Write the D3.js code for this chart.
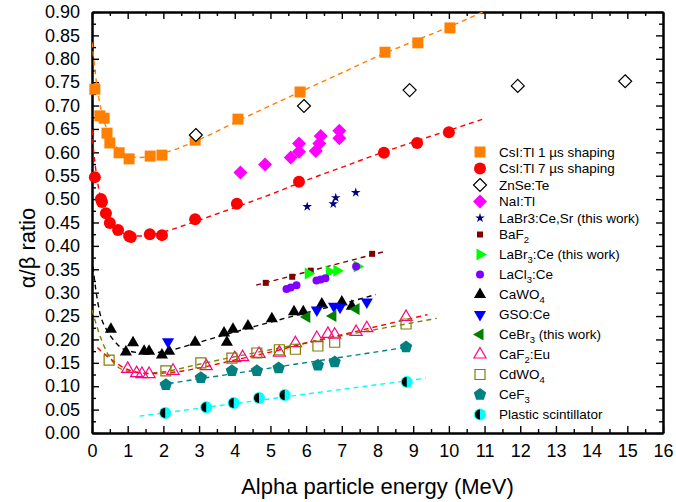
<!DOCTYPE html>
<html><head><meta charset="utf-8">
<script src="https://cdn.jsdelivr.net/npm/d3@7"></script>
<style>
body{margin:0;background:#fff}
svg{display:block}
text{font-family:"Liberation Sans",Arial,sans-serif;fill:#000}
</style>
</head><body>
<svg id="chart" width="676" height="502"></svg>
<script>
// ---------- tick values ----------
const xMajorTicks = [0,1,2,3,4,5,6,7,8,9,10,11,12,13,14,15,16];
const xMinorTicks = [0.5,1.5,2.5,3.5,4.5,5.5,6.5,7.5,8.5,9.5,10.5,11.5,12.5,13.5,14.5,15.5];
const yMajorTicks = [0,0.05,0.10,0.15,0.20,0.25,0.30,0.35,0.40,0.45,0.50,0.55,0.60,0.65,0.70,0.75,0.80,0.85,0.90];
const yMinorTicks = [0.025,0.075,0.125,0.175,0.225,0.275,0.325,0.375,0.425,0.475,0.525,0.575,0.625,0.675,0.725,0.775,0.825,0.875];
const xTitle = "Alpha particle energy (MeV)";
const yTitle = "\u03b1/\u03b2 ratio";

// ---------- series data [energy MeV, alpha/beta ratio] ----------
const csi1us = [[0.08,0.735],[0.22,0.678],[0.34,0.673],[0.42,0.641],[0.50,0.620],[0.76,0.599],[1.04,0.586],[1.63,0.592],[1.96,0.594],[2.89,0.626],[4.09,0.671],[5.83,0.729],[8.21,0.814],[9.13,0.834],[10.03,0.866]];
const csi7us = [[0.08,0.547],[0.25,0.500],[0.28,0.494],[0.39,0.470],[0.50,0.449],[0.73,0.434],[1.04,0.421],[1.09,0.419],[1.62,0.425],[1.96,0.423],[2.89,0.457],[4.06,0.490],[5.80,0.537],[8.18,0.599],[9.11,0.620],[10.0,0.643]];
const znse = [[2.91,0.637],[5.94,0.699],[8.9,0.733],[11.93,0.742],[14.94,0.752]];
const nai = [[4.16,0.557],[4.85,0.574],[5.57,0.589],[5.80,0.601],[5.80,0.619],[6.27,0.603],[6.37,0.619],[6.41,0.635],[6.93,0.630],[6.93,0.646]];
const labr3CeSr = [[6.03,0.484],[6.76,0.490],[6.83,0.503],[7.39,0.514]];
const baf2 = [[4.87,0.321],[5.61,0.334],[6.13,0.347],[7.85,0.383]];
const labr3Ce = [[6.06,0.341],[6.65,0.345],[6.86,0.347],[7.43,0.356]];
const lacl3 = [[5.45,0.308],[5.57,0.311],[5.73,0.316],[6.29,0.326],[6.41,0.328],[6.54,0.331],[7.40,0.356]];
const cawo4 = [[0.53,0.222],[0.95,0.173],[1.15,0.193],[1.46,0.175],[1.60,0.175],[1.96,0.167],[2.16,0.175],[2.89,0.194],[3.70,0.214],[3.78,0.194],[3.95,0.222],[4.37,0.229],[5.04,0.244],[5.66,0.259],[5.92,0.259],[6.44,0.276],[7.00,0.280],[7.28,0.271]];
const gso = [[2.13,0.195],[6.30,0.263],[6.78,0.271],[6.95,0.269],[7.70,0.280]];
const cebr3 = [[6.02,0.248],[6.75,0.250],[7.40,0.265]];
const caf2 = [[1.00,0.137],[1.25,0.128],[1.40,0.126],[1.60,0.126],[2.27,0.133],[3.20,0.143],[4.00,0.160],[4.22,0.162],[4.68,0.169],[5.25,0.172],[5.70,0.192],[6.30,0.203],[6.61,0.212],[6.80,0.210],[7.40,0.216],[7.70,0.224],[8.80,0.248]];
const cdwo4 = [[0.48,0.156],[2.07,0.133],[3.05,0.150],[3.92,0.160],[4.62,0.171],[5.25,0.178],[5.70,0.179],[6.33,0.186],[6.80,0.194],[8.80,0.233]];
const cef3 = [[2.07,0.103],[3.05,0.118],[3.92,0.133],[4.62,0.133],[5.23,0.139],[6.33,0.145],[6.80,0.152],[8.80,0.184]];
const plastic = [[2.05,0.043],[3.20,0.055],[3.97,0.064],[4.68,0.075],[5.40,0.081],[8.82,0.109]];

// ---------- fitted trend lines ----------
const fitCsi1us = [[0,0.835],[0.05,0.80],[0.1,0.765],[0.2,0.712],[0.3,0.677],[0.5,0.635],[0.75,0.606],[1.0,0.593],[1.3,0.589],[1.6,0.590],[2,0.598],[3,0.627],[4,0.664],[5,0.700],[6,0.735],[7,0.770],[8,0.805],[9,0.837],[10,0.868],[10.95,0.90]];
const fitCsi7us = [[0,0.648],[0.05,0.60],[0.1,0.567],[0.2,0.517],[0.3,0.488],[0.5,0.453],[0.75,0.433],[1.0,0.424],[1.3,0.421],[1.6,0.423],[2,0.430],[3,0.455],[4,0.482],[5,0.510],[6,0.540],[7,0.568],[8,0.596],[9,0.622],[10,0.647],[10.95,0.671]];
const fitBaf2 = [[4.6,0.316],[8.15,0.387]];
const fitCawo4 = [[0,0.375],[0.1,0.31],[0.22,0.257],[0.4,0.222],[0.56,0.203],[0.87,0.180],[1.3,0.172],[1.7,0.171],[2,0.174],[3,0.194],[4,0.216],[5,0.237],[6,0.257],[7,0.276],[7.95,0.296]];
const fitCaf2 = [[0.15,0.183],[0.3,0.172],[0.6,0.154],[0.9,0.139],[1.2,0.131],[1.6,0.127],[2,0.128],[2.5,0.132],[3,0.139],[4,0.156],[5,0.173],[6,0.192],[7,0.210],[8,0.228],[9.4,0.253]];
const fitCdwo4 = [[0,0.263],[0.17,0.22],[0.42,0.172],[0.64,0.147],[1,0.132],[1.5,0.128],[2,0.131],[3,0.147],[4,0.163],[5,0.178],[6,0.193],[7,0.208],[8,0.222],[9.66,0.245]];
const fitCef3 = [[1.9,0.103],[8.8,0.183]];
const fitPlastic = [[1.33,0.036],[9.35,0.117]];

// ---------- styles (built from the arrays above) ----------
const series = [
  {label:"CsI:Tl 1 \u00b5s shaping", data:csi1us, shape:"square", s:5.5, fill:"#FF8000", stroke:"none"},
  {label:"CsI:Tl 7 \u00b5s shaping", data:csi7us, shape:"circle", s:6, fill:"#FF0000", stroke:"none"},
  {label:"ZnSe:Te", data:znse, shape:"diamond", s:6.5, fill:"#fff", stroke:"#000"},
  {label:"NaI:Tl", data:nai, shape:"diamond", s:7, fill:"#FF00FF", stroke:"none"},
  {label:"LaBr3:Ce,Sr (this work)", data:labr3CeSr, shape:"star", s:3, fill:"#000080", stroke:"none"},
  {label:"BaF_2", data:baf2, shape:"square", s:3, fill:"#800000", stroke:"none"},
  {label:"LaBr_3:Ce (this work)", data:labr3Ce, shape:"triRight", s:7, fill:"#00FF00", stroke:"none"},
  {label:"LaCl_3:Ce", data:lacl3, shape:"circle", s:4, fill:"#8000FF", stroke:"none"},
  {label:"CaWO_4", data:cawo4, shape:"triUp", s:7, fill:"#000", stroke:"none"},
  {label:"GSO:Ce", data:gso, shape:"triDown", s:7, fill:"#0000FF", stroke:"none"},
  {label:"CeBr_3 (this work)", data:cebr3, shape:"triLeft", s:7, fill:"#008000", stroke:"none"},
  {label:"CaF_2:Eu", data:caf2, shape:"triUp", s:7, fill:"none", stroke:"#FF0080"},
  {label:"CdWO_4", data:cdwo4, shape:"square", s:5, fill:"none", stroke:"#808000"},
  {label:"CeF_3", data:cef3, shape:"pentagon", s:6.5, fill:"#008080", stroke:"none"},
  {label:"Plastic scintillator", data:plastic, shape:"half", s:6, fill:"#00FFFF", stroke:"none"}
];
const fits = [
  {data:fitCsi1us, color:"#FF8000"},
  {data:fitCsi7us, color:"#FF0000"},
  {data:fitBaf2, color:"#800000"},
  {data:fitCawo4, color:"#000"},
  {data:fitCdwo4, color:"#808000"},
  {data:fitCaf2, color:"#FF0000"},
  {data:fitCef3, color:"#008080"},
  {data:fitPlastic, color:"#00FFFF"}
];

// ---------- layout ----------
const svg = d3.select("#chart");
const L = 92, R = 663, T = 12, B = 433;
const x = d3.scaleLinear().domain([0,16]).range([L,R]);
const y = d3.scaleLinear().domain([0,0.9]).range([B,T]);

svg.append("defs").append("clipPath").attr("id","clip")
  .append("rect").attr("x",L).attr("y",T).attr("width",R-L).attr("height",B-T);

function poly(n, r, rot){
  const pts = d3.range(n).map(i=>{const a=rot+i*2*Math.PI/n; return [(r*Math.cos(a)).toFixed(2),(r*Math.sin(a)).toFixed(2)];});
  return "M"+pts.map(p=>p.join(",")).join("L")+"Z";
}
function shapePath(shape, s){
  switch(shape){
    case "square": return `M${-s},${-s}H${s}V${s}H${-s}Z`;
    case "diamond": return `M0,${-s}L${s},0L0,${s}L${-s},0Z`;
    case "circle": case "half": return d3.symbol(d3.symbolCircle, Math.PI*s*s)();
    case "star": return d3.symbol(d3.symbolStar, s*s*3.2)();
    case "triUp": return poly(3,s,-Math.PI/2);
    case "triDown": return poly(3,s,Math.PI/2);
    case "triRight": return poly(3,s,0);
    case "triLeft": return poly(3,s,Math.PI);
    case "pentagon": return poly(5,s,-Math.PI/2);
  }
}
function drawMarker(g, sr, px, py){
  const gg = g.append("g").attr("transform",`translate(${px},${py})`);
  gg.append("path").attr("d",shapePath(sr.shape, sr.s))
    .attr("fill",sr.fill).attr("stroke",sr.stroke).attr("stroke-width",1.2);
  if(sr.shape==="half"){
    const r = sr.s-1;
    gg.append("path").attr("d",`M0,${-r}A${r},${r} 0 0 0 0,${r}Z`).attr("fill","#000");
  }
}

// ---------- axes ----------
function styleAxis(g){
  g.selectAll(".domain").attr("stroke","#000").attr("stroke-width",2);
  g.selectAll(".tick line").attr("stroke","#000").attr("stroke-width",1.4);
  g.selectAll(".tick text").style("font-size","18px").attr("fill","#000");
}
// bottom
svg.append("g").attr("transform",`translate(0,${B})`)
  .call(d3.axisBottom(x).tickValues(xMinorTicks).tickSizeInner(-4).tickSizeOuter(0).tickFormat(""))
  .call(styleAxis);
svg.append("g").attr("transform",`translate(0,${B})`)
  .call(d3.axisBottom(x).tickValues(xMajorTicks).tickSizeInner(-7).tickSizeOuter(0).tickPadding(11).tickFormat(d3.format("d")))
  .call(styleAxis);
// top
svg.append("g").attr("transform",`translate(0,${T})`)
  .call(d3.axisTop(x).tickValues(xMinorTicks).tickSizeInner(-4).tickSizeOuter(0).tickFormat(""))
  .call(styleAxis);
svg.append("g").attr("transform",`translate(0,${T})`)
  .call(d3.axisTop(x).tickValues(xMajorTicks).tickSizeInner(-7).tickSizeOuter(0).tickFormat(""))
  .call(styleAxis);
// left
svg.append("g").attr("transform",`translate(${L},0)`)
  .call(d3.axisLeft(y).tickValues(yMinorTicks).tickSizeInner(-4).tickSizeOuter(0).tickFormat(""))
  .call(styleAxis);
svg.append("g").attr("transform",`translate(${L},0)`)
  .call(d3.axisLeft(y).tickValues(yMajorTicks).tickSizeInner(-7).tickSizeOuter(0).tickPadding(12).tickFormat(d3.format(".2f")))
  .call(styleAxis);
// right
svg.append("g").attr("transform",`translate(${R},0)`)
  .call(d3.axisRight(y).tickValues(yMinorTicks).tickSizeInner(-4).tickSizeOuter(0).tickFormat(""))
  .call(styleAxis);
svg.append("g").attr("transform",`translate(${R},0)`)
  .call(d3.axisRight(y).tickValues(yMajorTicks).tickSizeInner(-7).tickSizeOuter(0).tickFormat(""))
  .call(styleAxis);

// axis titles
svg.append("text").attr("x",(L+R)/2).attr("y",494).attr("text-anchor","middle")
  .style("font-size","22px").text(xTitle);
svg.append("text").attr("transform","translate(35,248) rotate(-90)").attr("text-anchor","middle")
  .style("font-size","22px").text(yTitle);

// ---------- fits ----------
const line = d3.line().x(d=>x(d[0])).y(d=>y(d[1])).curve(d3.curveMonotoneX);
const fitG = svg.append("g").attr("clip-path","url(#clip)");
fits.forEach(f=>{
  fitG.append("path").attr("d",line(f.data)).attr("fill","none")
    .attr("stroke",f.color).attr("stroke-width",1.4).attr("stroke-dasharray","5,4");
});

// ---------- markers ----------
const markG = svg.append("g");
series.forEach(sr=>{
  sr.data.forEach(d=>drawMarker(markG, sr, x(d[0]), y(d[1])));
});

// ---------- legend ----------
const legG = svg.append("g");
let ly = 152;
series.forEach((sr,i)=>{
  if(i>0) ly += (i<=5 ? 16.5 : 20);
  drawMarker(legG, sr, 480, ly);
  const t = legG.append("text").attr("x",499).attr("y",ly).attr("dy","0.36em").style("font-size","13.5px");
  const parts = sr.label.split(/_(\d)/);
  parts.forEach((p,k)=>{
    if(k%2===1){
      t.append("tspan").attr("dy",4).style("font-size","9.5px").text(p);
    } else if(p.length){
      const ts = t.append("tspan").text(p);
      if(k>0) ts.attr("dy",-4);
    }
  });
});
</script>
</body></html>
